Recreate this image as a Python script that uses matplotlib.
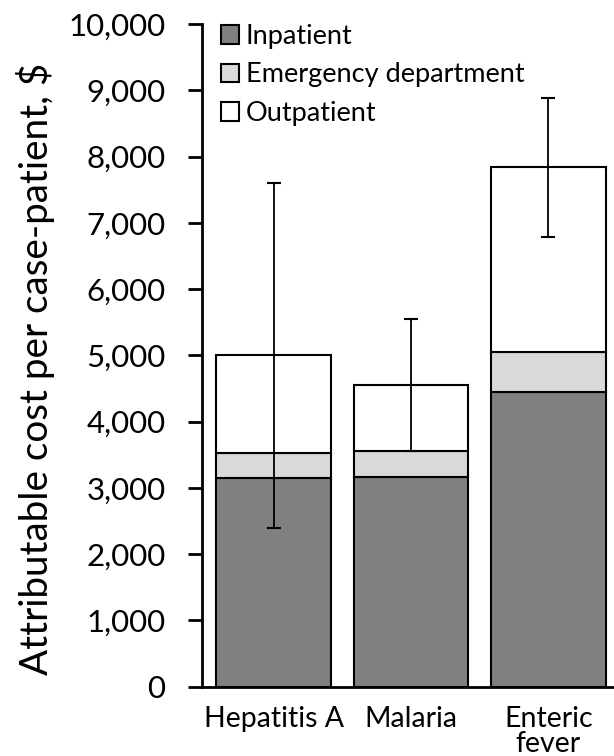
import numpy as np
import matplotlib.pyplot as plt

plt.rcParams['font.family'] = ['Lato', 'DejaVu Sans']

categories = ['Hepatitis A', 'Malaria', 'Enteric\nfever']
inpatient = [3150, 3170, 4440]
emergency = [380, 390, 610]
outpatient = [1480, 990, 2790]
err_low = [2400, 3550, 6790]
err_high = [7600, 5550, 8880]

fig = plt.figure(figsize=(6.14, 7.56), dpi=100)
ax = fig.add_axes([0.3285, 0.0919, 0.6715, 0.876])

x = np.arange(len(categories))
w = 0.837
edge = dict(edgecolor='black', linewidth=1.5)
ax.bar(x, inpatient, w, color='#808080', label='Inpatient', **edge)
bottom2 = np.array(inpatient)
ax.bar(x, emergency, w, bottom=bottom2, color='#d9d9d9', label='Emergency department', **edge)
bottom3 = bottom2 + np.array(emergency)
ax.bar(x, outpatient, w, bottom=bottom3, color='white', label='Outpatient', **edge)

# error bars sit on top of the stacked totals
totals = bottom3 + np.array(outpatient)
yerr = [totals - np.array(err_low), np.array(err_high) - totals]
ax.errorbar(x, totals, yerr=yerr, fmt='none', ecolor='black', elinewidth=1.3,
            capsize=5, capthick=1.5)

ax.set_xlim(-0.524, 2.478)
ax.set_ylim(0, 10000)
ax.set_yticks(np.arange(0, 10001, 1000))
ax.set_yticklabels([f'{v:,}' for v in range(0, 10001, 1000)], fontsize=22.5)
ax.set_xticks(x)
ax.set_xticklabels(categories, fontsize=20.5, linespacing=0.95)
ax.tick_params(axis='x', length=0, pad=14)
ax.tick_params(axis='y', length=10, width=2, pad=16, direction='out')
ax.spines['top'].set_visible(False)
ax.spines['right'].set_visible(False)
ax.spines['left'].set_linewidth(2)
ax.spines['bottom'].set_linewidth(2)
ax.set_ylabel('Attributable cost per case-patient, $', fontsize=27.8)
ax.yaxis.set_label_coords(-0.355, 0.48)

ax.legend(loc='upper left', bbox_to_anchor=(0.02, 1.017), frameon=False, fontsize=19.5,
          handlelength=0.68, handleheight=0.68, handletextpad=0.25, labelspacing=0.5,
          borderaxespad=0)

fig.savefig('out.png', dpi=100)
